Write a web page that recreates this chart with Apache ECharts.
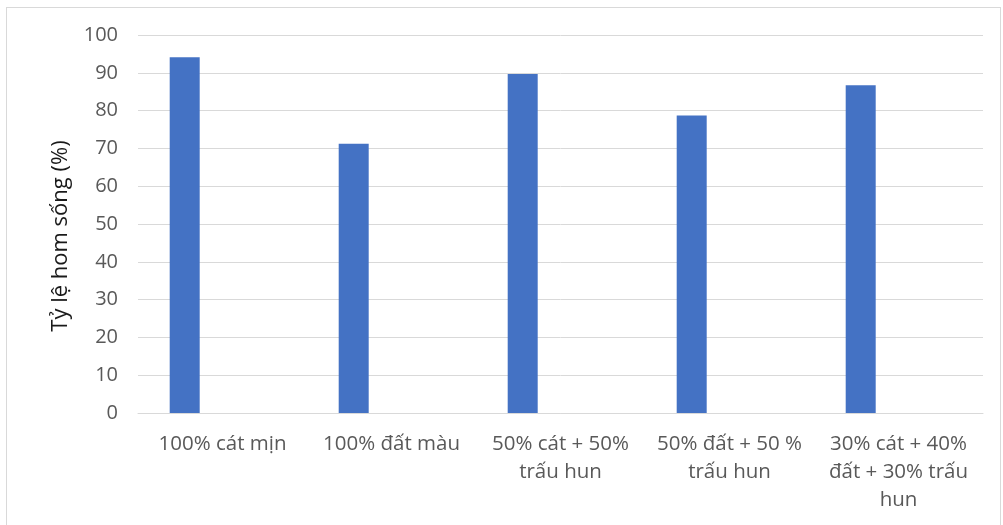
<!DOCTYPE html>
<html><head><meta charset="utf-8">
<script src="https://cdn.jsdelivr.net/npm/echarts@6/dist/echarts.min.js"></script>
<style>
html,body{margin:0;padding:0;background:#fff;}
#frame{position:absolute;left:6px;top:7px;width:995px;height:530px;border:1px solid #d9d9d9;box-sizing:border-box;}
#c{position:absolute;left:0;top:0;width:1003px;height:525px;}
</style></head>
<body>
<div id="frame"></div>
<div id="c"></div>
<script>
const categories = ["100% cát mịn", "100% đất màu", "50% cát + 50%\ntrấu hun", "50% đất + 50 %\ntrấu hun", "30% cát + 40%\nđất + 30% trấu\nhun"];
const survival = [94.1, 71.2, 89.7, 78.7, 86.7];
const emptySeries = [null, null, null, null, null];
const yTicks = [0, 10, 20, 30, 40, 50, 60, 70, 80, 90, 100];

const chart = echarts.init(document.getElementById('c'), null, {renderer: 'canvas'});
const font = 'Open Sans';
chart.setOption({
  animation: false,
  grid: {left: 138, right: 20, top: 35, bottom: 112},
  xAxis: {
    type: 'category', data: categories,
    axisLine: {show: true, lineStyle: {color: '#d9d9d9', width: 1}},
    axisTick: {show: false},
    axisLabel: {color: '#595959', fontFamily: font, fontSize: 20.5, lineHeight: 28, margin: 17, interval: 0}
  },
  yAxis: {
    type: 'value', min: yTicks[0], max: yTicks[yTicks.length - 1], interval: 10,
    name: 'Tỷ lệ hom sống (%)', nameLocation: 'middle', nameGap: 66,
    nameTextStyle: {color: '#1a1a1a', fontFamily: font, fontSize: 22, padding: [0, 24, 0, 0]},
    axisLine: {show: false}, axisTick: {show: false},
    axisLabel: {color: '#595959', fontFamily: font, fontSize: 20, margin: 20},
    splitLine: {lineStyle: {color: '#d9d9d9', width: 1}}
  },
  series: [
    {type: 'bar', data: survival, barWidth: 30, barGap: '152%', itemStyle: {color: '#4472C4'}},
    {type: 'bar', data: emptySeries, barWidth: 30}
  ]
});
</script>
</body></html>
